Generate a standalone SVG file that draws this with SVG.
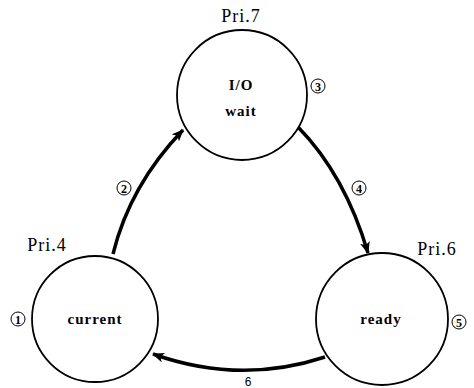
<svg xmlns="http://www.w3.org/2000/svg" width="474" height="388" viewBox="0 0 474 388">
<style>
.node{fill:#fff;stroke:#000;stroke-width:1.8}
.pri{font-family:"Liberation Serif",serif;font-size:18px;fill:#000;text-anchor:middle;letter-spacing:1px}
.lbl{font-family:"Liberation Serif",serif;font-size:15px;font-weight:bold;fill:#000;text-anchor:middle;letter-spacing:1px}
.num{fill:none;stroke:#000;stroke-width:1}
.numt{font-family:"Liberation Serif",serif;font-size:12px;font-weight:bold;fill:#000;text-anchor:middle}
.edge{fill:none;stroke:#000;stroke-width:3.5}
</style>
<defs>
<marker id="ah" viewBox="0 0 12 10" refX="11" refY="5" markerWidth="12" markerHeight="10" markerUnits="userSpaceOnUse" orient="auto">
<path d="M0,0 L12,5 L0,10 L3,5 Z" fill="#000"/>
</marker>
</defs>
<g id="edges">
<path class="edge" d="M113,254 Q130,185 183,130" marker-end="url(#ah)"/>
<path class="edge" d="M298,127 Q345,175 368,253" marker-end="url(#ah)"/>
<path class="edge" d="M325,357 Q240,385 153,354" marker-end="url(#ah)"/>
<text x="248" y="386" font-family="Liberation Sans,sans-serif" font-size="12" fill="#000" text-anchor="middle">6</text>
<circle class="num" cx="124" cy="188" r="7"/><text class="numt" x="124" y="192.5">2</text>
<circle class="num" cx="359" cy="188" r="7"/><text class="numt" x="359" y="192.5">4</text>
</g>
<g id="io">
<circle class="node" cx="242" cy="95" r="65"/>
<text class="pri" x="241" y="22">Pri.7</text>
<text class="lbl" x="241" y="90">I/O</text>
<text class="lbl" x="241" y="116">wait</text>
<circle class="num" cx="318" cy="86" r="7"/><text class="numt" x="318" y="90.5">3</text>
</g>
<g id="current">
<circle class="node" cx="95" cy="319" r="63"/>
<text class="pri" x="47" y="251">Pri.4</text>
<text class="lbl" x="95" y="324">current</text>
<circle class="num" cx="18" cy="319" r="7"/><text class="numt" x="18" y="323.5">1</text>
</g>
<g id="ready">
<circle class="node" cx="382" cy="319" r="66"/>
<text class="pri" x="437" y="255">Pri.6</text>
<text class="lbl" x="381" y="324">ready</text>
<circle class="num" cx="459" cy="322" r="7"/><text class="numt" x="459" y="326.5">5</text>
</g>
</svg>
